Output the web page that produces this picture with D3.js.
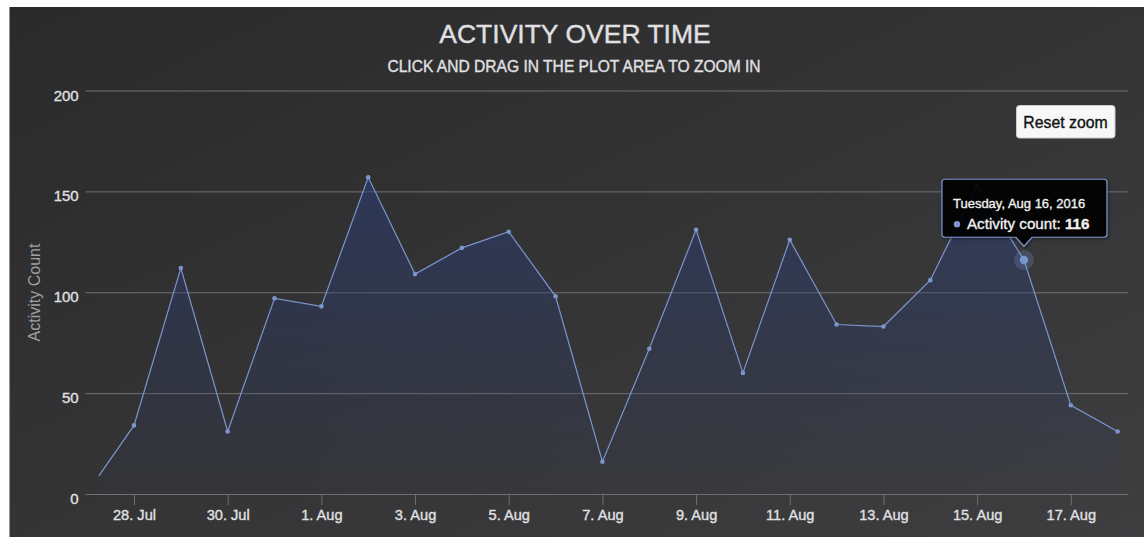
<!DOCTYPE html>
<html><head><meta charset="utf-8">
<script src="https://cdn.jsdelivr.net/npm/d3@7"></script>
<style>
body{margin:0;background:#fff;}
text{font-family:"Liberation Sans",Arial,Helvetica,sans-serif;}
.heavy{stroke-width:0.35px;paint-order:stroke;}
</style>
</head><body><svg id="c" width="1144" height="537"></svg>
<script>
// ---- data ----
const dates = ["2016-07-27T06:00:00Z","2016-07-28","2016-07-29","2016-07-30","2016-07-31",
  "2016-08-01","2016-08-02","2016-08-03","2016-08-04","2016-08-05","2016-08-06","2016-08-07",
  "2016-08-08","2016-08-09","2016-08-10","2016-08-11","2016-08-12","2016-08-13","2016-08-14",
  "2016-08-15","2016-08-16","2016-08-17","2016-08-18"];
const counts = [9,34,112,31,97,93,157,109,122,130,98,16,72,131,60,126,84,83,106,153,116,44,31];
const tickDates = ["2016-07-28","2016-07-30","2016-08-01","2016-08-03","2016-08-05","2016-08-07",
  "2016-08-09","2016-08-11","2016-08-13","2016-08-15","2016-08-17"];
const yTicks = [0,50,100,150,200];
const xExtent = ["2016-07-26T23:15:00Z","2016-08-18T05:18:00Z"];
const titleText = "ACTIVITY OVER TIME";
const subtitleText = "CLICK AND DRAG IN THE PLOT AREA TO ZOOM IN";
const yTitleText = "Activity Count";
const seriesName = "Activity count";
const hoverIndex = 20;

// ---- layout ----
const W = 1144, H = 537;
const plot = {left: 85.7, right: 1128, top: 90.5, bottom: 494};
const lineColor = "#7b95cf";
const gridColor = "#707073";
const textColor = "#E0E0E3";

const data = dates.map((d,i)=>({date:new Date(d), value:counts[i]}));
const svg = d3.select("#c");
const defs = svg.append("defs");

const bg = defs.append("linearGradient").attr("id","bg").attr("x1",0).attr("y1",0).attr("x2",1).attr("y2",1);
bg.append("stop").attr("offset",0).attr("stop-color","#2a2a2b");
bg.append("stop").attr("offset",1).attr("stop-color","#3e3e40");

svg.append("rect").attr("x",9.5).attr("y",7).attr("width",W-9.5).attr("height",H-7).attr("fill","url(#bg)");

const x = d3.scaleUtc().domain(xExtent.map(d=>new Date(d))).range([plot.left, plot.right]);
const y = d3.scaleLinear().domain([0,200]).range([plot.bottom, plot.top]);

const ag = defs.append("linearGradient").attr("id","area").attr("gradientUnits","userSpaceOnUse")
  .attr("x1",0).attr("x2",0).attr("y1",y(160)).attr("y2",y(0));
ag.append("stop").attr("offset",0).attr("stop-color","#2a3d78").attr("stop-opacity",0.55);
ag.append("stop").attr("offset",1).attr("stop-color","#2a3d78").attr("stop-opacity",0.02);

const shadow = defs.append("filter").attr("id","sh").attr("x","-20%").attr("y","-20%").attr("width","140%").attr("height","150%");
shadow.append("feDropShadow").attr("dx",1).attr("dy",1).attr("stdDeviation",1.5).attr("flood-color","#000").attr("flood-opacity",0.5);

// titles
svg.append("text").attr("class","heavy").attr("x",575).attr("y",42.7).attr("text-anchor","middle")
  .attr("font-size",26.5).attr("fill",textColor).attr("stroke",textColor).text(titleText);
svg.append("text").attr("class","heavy").attr("x",574).attr("y",71.7).attr("text-anchor","middle")
  .attr("font-size",15.6).attr("fill",textColor).attr("stroke",textColor).attr("stroke-width",0.5).text(subtitleText);

// gridlines + y labels
const yAxis = d3.axisLeft(y).tickValues(yTicks).tickSize(-(plot.right-plot.left)).tickPadding(6);
const gy = svg.append("g").attr("transform",`translate(${plot.left},0)`).call(yAxis);
gy.select(".domain").remove();
gy.selectAll(".tick line").attr("stroke",gridColor).attr("stroke-width",1).attr("x1",plot.right-plot.left).attr("x2",0);
gy.selectAll(".tick text").attr("class","heavy").attr("fill",textColor).attr("stroke",textColor)
  .attr("font-size",15).attr("dy",null).attr("y",9.5).attr("font-family",null).attr("x",-7);

// y title
svg.append("text").attr("transform",`translate(39.5,292.5) rotate(-90)`).attr("text-anchor","middle")
  .attr("font-size",16).attr("fill","#A0A0A3").text(yTitleText);

// x axis
const xAxis = d3.axisBottom(x).tickValues(tickDates.map(d=>new Date(d)))
  .tickFormat(d3.utcFormat("%-d. %b")).tickSize(11).tickPadding(4).tickSizeOuter(0);
const gx = svg.append("g").attr("transform",`translate(0,${plot.bottom})`).call(xAxis);
gx.select(".domain").attr("stroke",gridColor);
gx.selectAll(".tick line").attr("stroke",gridColor);
gx.selectAll(".tick text").attr("class","heavy").attr("fill",textColor).attr("stroke",textColor)
  .attr("font-size",14.6).attr("font-family",null).attr("dy",null).attr("y",26);

// area + line
defs.append("clipPath").attr("id","pc").append("rect")
  .attr("x",plot.left).attr("y",plot.top-20).attr("width",plot.right-plot.left).attr("height",plot.bottom-plot.top+20);
const gp = svg.append("g").attr("clip-path","url(#pc)");
gp.append("path").datum(data)
  .attr("d", d3.area().x(d=>x(d.date)).y0(y(0)).y1(d=>y(d.value)))
  .attr("fill","url(#area)");
gp.append("path").datum(data)
  .attr("d", d3.line().x(d=>x(d.date)).y(d=>y(d.value)))
  .attr("fill","none").attr("stroke",lineColor).attr("stroke-width",1.2);
gp.selectAll("circle.m").data(data.filter((d,i)=>i>0 && i!==hoverIndex)).join("circle")
  .attr("class","m").attr("cx",d=>x(d.date)).attr("cy",d=>y(d.value)).attr("r",2.3).attr("fill",lineColor);

// hovered point
const hp = data[hoverIndex];
const hx = x(hp.date), hy = y(hp.value);
svg.append("circle").attr("cx",hx).attr("cy",hy).attr("r",10).attr("fill",lineColor).attr("fill-opacity",0.25);
svg.append("circle").attr("cx",hx).attr("cy",hy).attr("r",4.2).attr("fill",lineColor);

// reset zoom button
const btn = svg.append("g");
btn.append("rect").attr("x",1016.5).attr("y",105.5).attr("width",98.5).attr("height",32.5).attr("rx",3)
  .attr("fill","#f7f7f7").attr("stroke","#cccccc").attr("stroke-width",1);
btn.append("text").attr("class","heavy").attr("x",1065.5).attr("y",128.3).attr("text-anchor","middle").attr("font-size",15.8)
  .attr("fill","#111").attr("stroke","#111").attr("stroke-width",0.2).text("Reset zoom");

// tooltip
const tw = 165, th = 58;
const tx = hx - tw/2 + 0.5, ty = hy - 22.7 - th;
const tg = svg.append("g");
const tipPath = `M${tx+3},${ty} H${tx+tw-3} Q${tx+tw},${ty} ${tx+tw},${ty+3} V${ty+th-3} Q${tx+tw},${ty+th} ${tx+tw-3},${ty+th}
  H${hx+8} L${hx},${ty+th+9} L${hx-8},${ty+th} H${tx+3} Q${tx},${ty+th} ${tx},${ty+th-3} V${ty+3} Q${tx},${ty} ${tx+3},${ty} Z`;
tg.append("path").attr("d",tipPath).attr("fill","rgba(0,0,0,0.88)").attr("stroke",lineColor).attr("stroke-width",1.2)
  .attr("filter","url(#sh)");
tg.append("text").attr("class","heavy").attr("x",tx+11).attr("y",ty+28.3).attr("font-size",13).attr("fill","#F0F0F0")
  .attr("stroke","#F0F0F0").attr("stroke-width",0.25).text(d3.utcFormat("%A, %b %-d, %Y")(hp.date));
tg.append("circle").attr("cx",tx+15).attr("cy",ty+45).attr("r",3.2).attr("fill",lineColor);
const t2 = tg.append("text").attr("class","heavy").attr("x",tx+25).attr("y",ty+49.3).attr("font-size",15.2)
  .attr("fill","#F0F0F0").attr("stroke","#F0F0F0").attr("stroke-width",0.3);
t2.append("tspan").text(seriesName + ": ");
t2.append("tspan").attr("font-weight","bold").text(hp.value);
</script></body></html>
